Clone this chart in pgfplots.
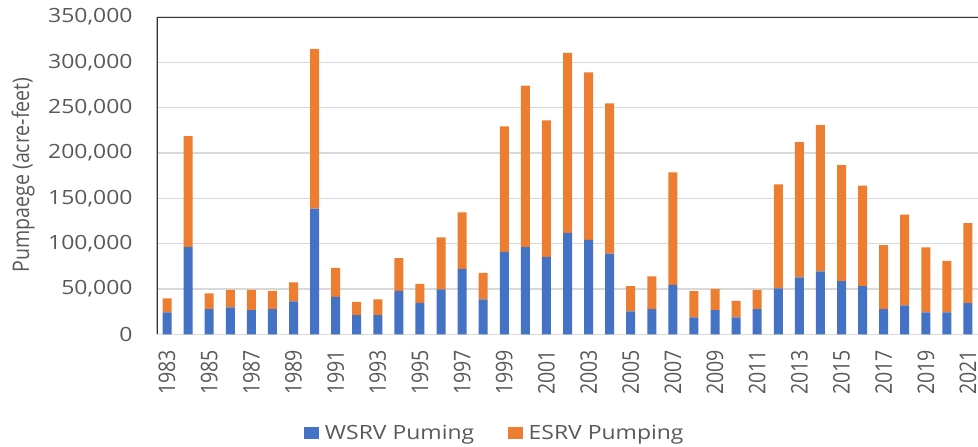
\documentclass[border=0pt]{standalone}
\usepackage{pgfplots}
\pgfplotsset{compat=1.18}
\usepackage{pgfplotstable}
\usepackage{fontspec}
\setmainfont{Open Sans}
\newfontfamily\hfont{Open Sans}[FakeStretch=1.17]
\newfontfamily\vfont{Open Sans}[FakeStretch=0.855]
\definecolor{wsrv}{HTML}{4472C4}
\definecolor{esrv}{HTML}{ED7D31}
\definecolor{txt}{HTML}{595959}
\definecolor{gridc}{HTML}{D9D9D9}
\definecolor{frame}{HTML}{333333}
\newcommand{\hf}{\hfont\fontsize{19.6bp}{23bp}\selectfont}
\newcommand{\vf}{\vfont\fontsize{22.9bp}{27bp}\selectfont}

\pgfplotstableread{
year wsrv esrv
1983 24200 15400
1984 96100 122500
1985 27800 17300
1986 29700 19400
1987 26700 22400
1988 27800 20200
1989 36300 20900
1990 138700 176100
1991 41400 31900
1992 21200 14700
1993 21200 17300
1994 48000 36000
1995 34800 20900
1996 49500 57300
1997 72200 62400
1998 38500 29300
1999 90900 138400
2000 96100 178300
2001 85400 150500
2002 111800 198600
2003 104100 184900
2004 89100 165500
2005 25300 27900
2006 27800 36000
2007 54600 124000
2008 18700 29000
2009 26700 23500
2010 18700 18300
2011 27800 21300
2012 50600 114800
2013 62700 149300
2014 69300 161400
2015 58700 128000
2016 53200 110800
2017 27800 70500
2018 31900 100200
2019 24200 71600
2020 24200 56800
2021 34400 88100
}\datatable

\begin{document}
\begin{tikzpicture}
\useasboundingbox (0bp,0bp) rectangle (978bp,447bp);
\begin{axis}[
  at={(156.5bp,112.7bp)}, anchor=south west,
  scale only axis, width=822bp, height=317.3bp,
  ybar stacked, bar width=9bp,
  xmin=1982.5, xmax=2021.5,
  ymin=0, ymax=350000,
  xtick={1983,1985,...,2021},
  ytick={0,50000,...,350000},
  scaled y ticks=false,
  major tick length=0pt,
  axis line style={draw=none},
  ymajorgrids, grid style={gridc, line width=1.5bp},
  /pgf/number format/assume math mode=true,
  yticklabel style={font=\hf, text=txt, inner sep=0pt, anchor=east,
    /pgf/number format/.cd, fixed, 1000 sep={,}},
  yticklabel shift=23.8bp,
  xticklabel style={font=\vf, text=txt, inner sep=0pt, rotate=90, anchor=east,
    /pgf/number format/.cd, 1000 sep={}},
  xticklabel shift=15.7bp,
  ylabel={Pumpaege (acre-feet)},
  every axis y label/.style={at={(rel axis cs:-0.1551,0.502)}, rotate=90, anchor=base, font=\vf, text=txt},
  legend columns=2,
  legend style={draw=none, fill=none, at={(0.4106,-0.311)}, anchor=center,
    font=\hf, text=txt, nodes={inner sep=0pt},
    /tikz/every odd column/.append style={column sep=6bp},
    /tikz/every even column/.append style={column sep=34bp}},
  legend image code/.code={\fill[#1,draw=none] (0bp,-6.25bp) rectangle (14.5bp,6.25bp);},
]
\addplot[fill=wsrv, draw=none] table[x=year, y=wsrv] {\datatable};
\addplot[fill=esrv, draw=none] table[x=year, y=esrv] {\datatable};
\legend{WSRV Puming, ESRV Pumping}
\draw[gridc, line width=1.5bp] (rel axis cs:0,0) -- (rel axis cs:1,0);
\draw[frame, line width=2.5bp] (rel axis cs:0,0) -- (rel axis cs:0,1) -- (rel axis cs:1,1);
\end{axis}
\end{tikzpicture}
\end{document}
